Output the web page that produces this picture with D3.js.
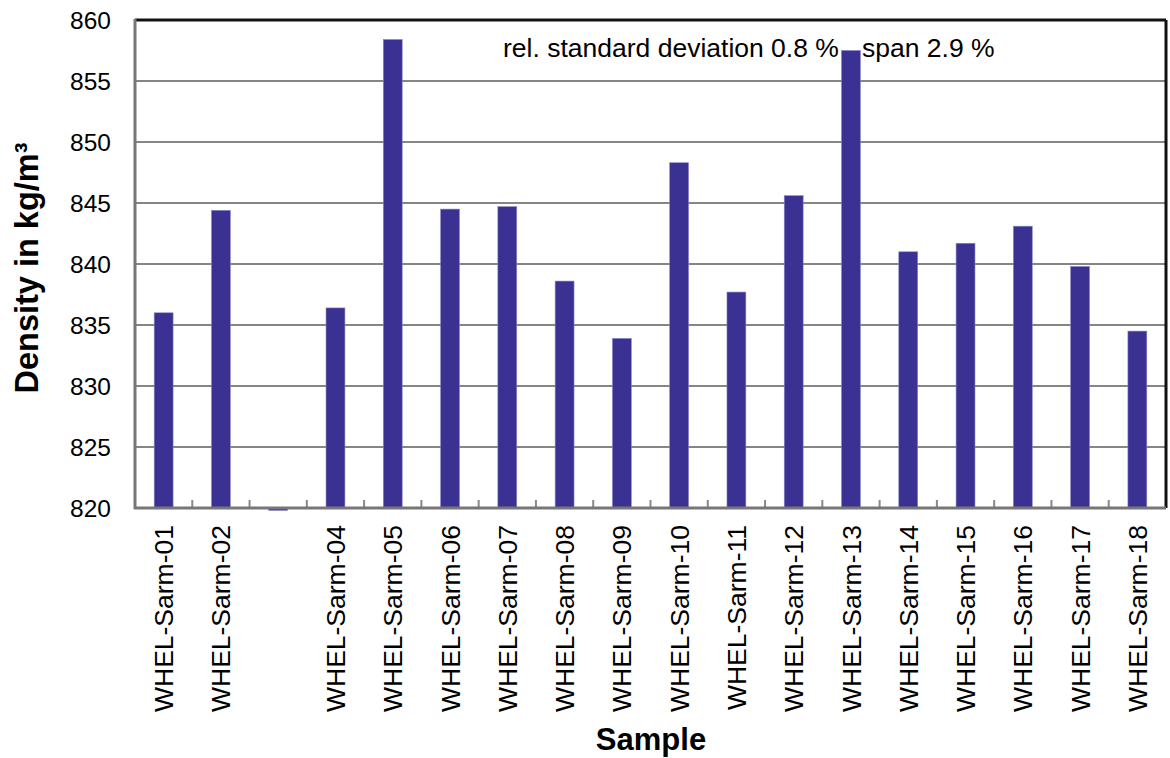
<!DOCTYPE html>
<html>
<head>
<meta charset="utf-8">
<script src="https://cdn.jsdelivr.net/npm/d3@7"></script>
<style>
  body { margin: 0; background: #fff; }
  text { font-family: Arial, "Liberation Sans", sans-serif; fill: #000; }
</style>
</head>
<body>
<script>
// samples (third one has no label and an empty value just under the axis)
var samples = ["WHEL-Sarm-01", "WHEL-Sarm-02", "", "WHEL-Sarm-04", "WHEL-Sarm-05", "WHEL-Sarm-06",
               "WHEL-Sarm-07", "WHEL-Sarm-08", "WHEL-Sarm-09", "WHEL-Sarm-10", "WHEL-Sarm-11", "WHEL-Sarm-12",
               "WHEL-Sarm-13", "WHEL-Sarm-14", "WHEL-Sarm-15", "WHEL-Sarm-16", "WHEL-Sarm-17", "WHEL-Sarm-18"]
var density = [836.0, 844.4, 819.8, 836.4, 858.4, 844.5,
               844.7, 838.6, 833.9, 848.3, 837.7, 845.6,
               857.5, 841.0, 841.7, 843.1, 839.8, 834.5]
var yTicks = [820, 825, 830, 835, 840, 845, 850, 855, 860]
var notes = ["rel. standard deviation 0.8 %", "span 2.9 %"]

var screen = {width: 1170, height: 758}
var margin = {top: 20, right: 4, bottom: 250, left: 135}

var svg = d3.select("body")
            .append("svg")
            .attr("width", screen.width)
            .attr("height", screen.height);

var x = d3.scaleBand()
          .domain(d3.range(samples.length))
          .range([margin.left, screen.width - margin.right])
          .paddingInner(0.67)
          .paddingOuter(0.335);

var bandX = d3.scaleBand()
              .domain(d3.range(samples.length))
              .range([margin.left, screen.width - margin.right]);

var y = d3.scaleLinear()
          .domain([820, 860])
          .range([screen.height - margin.bottom, margin.top]);

var plotBottom = y(820);
var plotRight = screen.width - margin.right;

// gridlines
svg.append("g")
   .selectAll("line")
   .data(yTicks.slice(1, -1))
   .enter()
   .append("line")
   .attr("x1", margin.left)
   .attr("x2", plotRight)
   .attr("y1", function(d) {return y(d);})
   .attr("y2", function(d) {return y(d);})
   .attr("stroke", "#858585")
   .attr("stroke-width", 2);

// note text (behind bars)
var note = svg.append("text")
              .attr("y", 57)
              .attr("font-size", "26.5px");
note.append("tspan").attr("x", 503).text(notes[0]);
note.append("tspan").attr("x", 862).text(notes[1]);

// bars
svg.append("g")
   .selectAll("rect")
   .data(density)
   .enter()
   .append("rect")
   .attr("x", function(d, i) {return x(i);})
   .attr("width", x.bandwidth())
   .attr("y", function(d) {return d >= 820 ? y(d) : plotBottom;})
   .attr("height", function(d) {return Math.abs(y(d) - plotBottom);})
   .attr("fill", "#3a3192")
   .attr("stroke", "#8a86c8")
   .attr("stroke-width", 0.6);

// frame: top and right black
svg.append("line")
   .attr("x1", margin.left).attr("x2", plotRight)
   .attr("y1", margin.top).attr("y2", margin.top)
   .attr("stroke", "#111").attr("stroke-width", 3);
svg.append("line")
   .attr("x1", plotRight).attr("x2", plotRight)
   .attr("y1", margin.top).attr("y2", plotBottom)
   .attr("stroke", "#111").attr("stroke-width", 3);

// x axis with inward ticks at category boundaries
var xAxis = svg.append("g");
xAxis.selectAll("line.tick")
     .data(d3.range(1, samples.length))
     .enter()
     .append("line")
     .attr("x1", function(d) {return bandX(d);})
     .attr("x2", function(d) {return bandX(d);})
     .attr("y1", plotBottom)
     .attr("y2", plotBottom - 8)
     .attr("stroke", "#888")
     .attr("stroke-width", 2);
xAxis.append("line")
     .attr("x1", margin.left - 1).attr("x2", plotRight)
     .attr("y1", plotBottom).attr("y2", plotBottom)
     .attr("stroke", "#777").attr("stroke-width", 3);

// y axis
svg.append("line")
   .attr("x1", margin.left).attr("x2", margin.left)
   .attr("y1", margin.top - 1).attr("y2", plotBottom + 1)
   .attr("stroke", "#777").attr("stroke-width", 3);

svg.append("g")
   .selectAll("text")
   .data(yTicks)
   .enter()
   .append("text")
   .attr("x", 111)
   .attr("y", function(d) {return y(d);})
   .attr("dy", "0.36em")
   .attr("text-anchor", "end")
   .attr("font-size", "24.5px")
   .text(function(d) {return d;});

// category labels
svg.append("g")
   .selectAll("text")
   .data(samples)
   .enter()
   .append("text")
   .attr("transform", function(d, i) {
     return "translate(" + (bandX(i) + bandX.bandwidth() / 2) + "," + (plotBottom + 17) + ") rotate(-90)";
   })
   .attr("dy", "0.36em")
   .attr("text-anchor", "end")
   .attr("font-size", "26.5px")
   .text(function(d) {return d;});

// axis titles
svg.append("text")
   .attr("x", 651)
   .attr("y", 750)
   .attr("text-anchor", "middle")
   .attr("font-size", "31px")
   .attr("font-weight", "bold")
   .text("Sample");

svg.append("text")
   .attr("transform", "translate(38," + 268 + ") rotate(-90)")
   .attr("text-anchor", "middle")
   .attr("font-size", "32.5px")
   .attr("font-weight", "bold")
   .text("Density in kg/m³");
</script>
</body>
</html>
